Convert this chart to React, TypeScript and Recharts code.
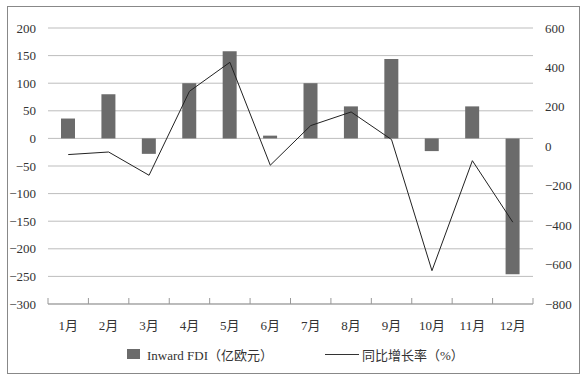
import { ComposedChart, Bar, Line, XAxis, YAxis, CartesianGrid, Legend } from 'recharts';

// months on the category axis
const months = ['1月', '2月', '3月', '4月', '5月', '6月', '7月', '8月', '9月', '10月', '11月', '12月'];
// Inward FDI, 亿欧元 (left axis)
const inwardFdi = [36, 80, -28, 100, 158, 5, 100, 58, 144, -23, 58, -246];
// 同比增长率, % (right axis)
const yoyGrowth = [-42, -29, -147, 279, 426, -96, 105, 174, 34, -631, -73, -385];

const leftTicks = [-300, -250, -200, -150, -100, -50, 0, 50, 100, 150, 200];
const rightTicks = [-800, -600, -400, -200, 0, 200, 400, 600];

const FONT = '"Liberation Serif", "Times New Roman", "Noto Sans CJK SC", serif';
const W = 588;
const H = 382;
const PLOT_LEFT = 48;
const PLOT_RIGHT = 533;
const BAND = (PLOT_RIGHT - PLOT_LEFT) / months.length;

const fmt = (v: number) => (v < 0 ? `−${Math.abs(v)}` : `${v}`);

const chartData = months.map((m, i) => ({
    month: m,
    fdi: inwardFdi[i],
    yoy: yoyGrowth[i],
}));

// category tick: label under the band, small upward tick marks at band edges
function MonthTick(props: any) {
    const { x, y, payload, index } = props;
    const axisY = y - 8;
    return (
        <g>
            <line x1={x - BAND / 2} x2={x - BAND / 2} y1={axisY} y2={axisY - 6} stroke="#999" />
            {index === months.length - 1 && (
                <line x1={x + BAND / 2} x2={x + BAND / 2} y1={axisY} y2={axisY - 6} stroke="#999" />
            )}
            <text x={x} y={y + 18} textAnchor="middle" fontSize={13} fill="#333" fontFamily={FONT}>
                {payload.value}
            </text>
        </g>
    );
}

function LegendContent() {
    return (
        <div style={{ display: 'flex', alignItems: 'center', fontFamily: FONT, fontSize: 13, color: '#333', height: 20 }}>
            <span style={{ display: 'inline-block', width: 13, height: 10, background: '#6b6b6b', marginLeft: 127, marginRight: 7 }} />
            <span>Inward FDI（亿欧元）</span>
            <span style={{ display: 'inline-block', width: 34, height: 1, background: '#333', marginLeft: 52, marginRight: 3 }} />
            <span>同比增长率（%）</span>
        </div>
    );
}

export default function App() {
    return (
        <div style={{ position: 'absolute', left: 0, top: 0, width: W, height: H, background: '#fff' }}>
            <div style={{ position: 'absolute', left: 7, top: 6, width: 571, height: 366, border: '1px solid #888' }} />
            <div style={{ position: 'absolute', left: 0, top: 0 }}>
                <ComposedChart width={W} height={H} data={chartData} margin={{ top: 28, right: 0, bottom: 0, left: 0 }}>
                    <CartesianGrid yAxisId="left" vertical={false} stroke="#bdbdbd" />
                    <XAxis
                        dataKey="month"
                        height={40}
                        tickLine={false}
                        axisLine={{ stroke: '#999' }}
                        tick={<MonthTick />}
                        interval={0}
                    />
                    <YAxis
                        yAxisId="left"
                        width={48}
                        domain={[-300, 200]}
                        ticks={leftTicks}
                        tickFormatter={fmt}
                        axisLine={false}
                        tickLine={false}
                        tick={{ fill: '#333', fontSize: 13, fontFamily: FONT }}
                        tickMargin={6}
                    />
                    <YAxis
                        yAxisId="right"
                        orientation="right"
                        width={55}
                        domain={[-800, 600]}
                        ticks={rightTicks}
                        tickFormatter={fmt}
                        axisLine={false}
                        tickLine={false}
                        tick={{ fill: '#333', fontSize: 13, fontFamily: FONT }}
                        tickMargin={6}
                    />
                    <Legend verticalAlign="bottom" height={38} content={<LegendContent />} />
                    <Bar yAxisId="left" dataKey="fdi" fill="#6b6b6b" barSize={14} isAnimationActive={false} />
                    <Line
                        yAxisId="right"
                        dataKey="yoy"
                        type="linear"
                        stroke="#222"
                        strokeWidth={1}
                        dot={false}
                        activeDot={false}
                        isAnimationActive={false}
                    />
                </ComposedChart>
            </div>
        </div>
    );
}
